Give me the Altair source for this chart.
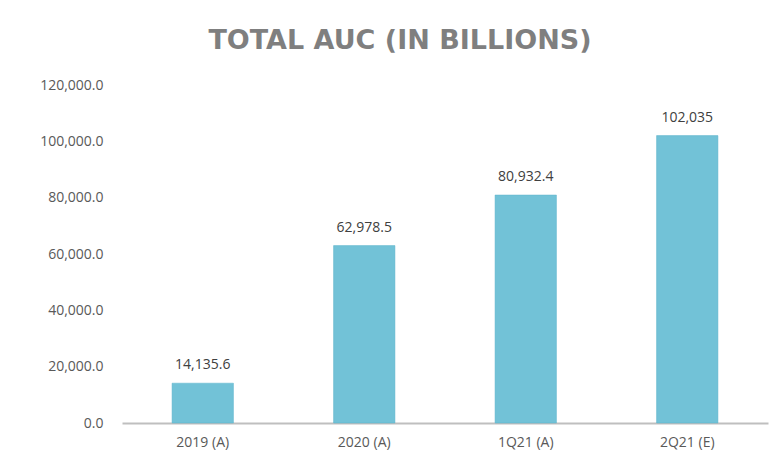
import altair as alt
import pandas as pd

categories = ["2019 (A)", "2020 (A)", "1Q21 (A)", "2Q21 (E)"]
values = [14135.6, 62978.5, 80932.4, 102035]
value_labels = ["14,135.6", "62,978.5", "80,932.4", "102,035"]

df = pd.DataFrame({"cat": categories, "val": values, "lab": value_labels})

FONT = "Open Sans"

x = alt.X("cat:N", sort=categories, title=None,
          scale=alt.Scale(paddingInner=0.62, paddingOuter=0.31),
          axis=alt.Axis(labelAngle=0, labelFont=FONT, labelFontSize=14, labelColor="#595959",
                        labelPadding=12, ticks=False, domainColor="#bfbfbf", domainWidth=2))
y = alt.Y("val:Q", title=None,
          scale=alt.Scale(domain=[0, 120000], nice=False),
          axis=alt.Axis(values=[0, 20000, 40000, 60000, 80000, 100000, 120000], format=",.1f",
                        labelFont=FONT, labelFontSize=14, labelColor="#595959",
                        ticks=False, domain=False, grid=False, labelPadding=19))

bars = alt.Chart(df).mark_bar(color="#72c2d7", stroke="#5bb3cb", strokeWidth=0.5).encode(x=x, y=y)
labels = alt.Chart(df).mark_text(font=FONT, fontSize=14, color="#404040", dy=-14,
                                 baseline="alphabetic").encode(x=alt.X("cat:N", sort=categories),
                                                               y="val:Q", text="lab:N")

chart = (bars + labels).properties(
    width=646, height=338,
    autosize=alt.AutoSizeParams(type="none"),
    padding={"left": 114, "top": 77, "right": 5, "bottom": 40},
    title=alt.Title("TOTAL AUC (IN BILLIONS)", font="DejaVu Sans", fontSize=27, fontWeight="bold",
                    color="#7f7f7f", anchor="middle", dx=-45, offset=23),
).configure(background="white").configure_view(stroke=None)

chart.save("out.html", embed_options={"renderer": "svg", "actions": False})
